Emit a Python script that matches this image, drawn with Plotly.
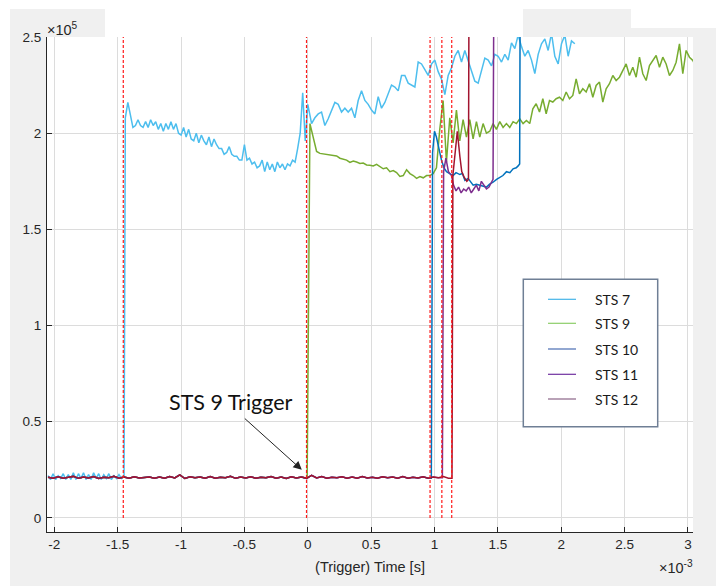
import plotly.graph_objects as go

# ---------------- data (time in ms = x10^-3 s, amplitude in x10^5) ----------------
# shared pre-trigger baseline (STS 9/10/11/12 overlap), t0=-2.05, step 0.04
base_t0, base_dt = -2.05, 0.04
base_v = [0.212, 0.206, 0.214, 0.207, 0.211, 0.216, 0.206, 0.213, 0.208, 0.215,
          0.205, 0.212, 0.209, 0.216, 0.207, 0.213, 0.206, 0.214, 0.208, 0.211,
          0.213, 0.207, 0.213, 0.206, 0.215, 0.208, 0.224, 0.205, 0.214, 0.209,
          0.213, 0.206, 0.215, 0.207, 0.212, 0.209, 0.216, 0.206, 0.213, 0.208,
          0.214, 0.206, 0.212, 0.209, 0.215, 0.207, 0.213, 0.205, 0.214, 0.208,
          0.213, 0.206, 0.222, 0.208, 0.215, 0.206, 0.212, 0.209, 0.214, 0.207,
          0.213, 0.206, 0.215, 0.208, 0.212, 0.206, 0.214, 0.209, 0.213, 0.207,
          0.215, 0.206, 0.212, 0.208, 0.214, 0.207, 0.213, 0.209, 0.215, 0.207,
          0.212]

# STS 7
sts7_pre_t0, sts7_pre_dt = -2.05, 0.02
sts7_pre_v = [0.22, 0.20, 0.23, 0.20, 0.22, 0.205, 0.23, 0.20, 0.225, 0.20,
              0.235, 0.20, 0.23, 0.205, 0.235, 0.20, 0.225, 0.20, 0.235, 0.205,
              0.23, 0.20, 0.225, 0.205, 0.23, 0.20, 0.22, 0.205, 0.225, 0.205, 0.215]
sts7_mid_t0, sts7_mid_dt = -1.44, 0.02
sts7_mid_v = [2.08, 2.16, 2.09, 2.03, 2.04, 2.07, 2.04, 2.03, 2.06, 2.03,
              2.07, 2.04, 2.06, 2.02, 2.05, 2.01, 2.05, 2.02, 2.06, 2.02,
              2.05, 2.00, 1.99, 2.03, 1.98, 2.02, 1.97, 1.96, 2.00, 1.95,
              1.99, 1.96, 1.94, 1.98, 1.93, 1.97, 1.94, 1.92, 1.92, 1.89,
              1.90, 1.93, 1.89, 1.88, 1.88, 1.86, 1.86, 1.94, 1.86, 1.87,
              1.84, 1.85, 1.82, 1.83, 1.86, 1.80, 1.85, 1.81, 1.84, 1.80,
              1.85, 1.82, 1.84, 1.81, 1.84, 1.83, 1.86, 1.85, 1.92, 2.00,
              2.21, 1.96, 2.15]
sts7_gap_t = [0.03]
sts7_gap_v = [2.05]
sts7_post_t0, sts7_post_dt = 0.056, 0.0263
sts7_post_v = [2.08, 2.10, 2.11, 2.04, 2.075, 2.12, 2.16, 2.15, 2.11, 2.13,
               2.11, 2.13, 2.08, 2.17, 2.22, 2.17, 2.15, 2.12, 2.10, 2.19,
               2.13, 2.16, 2.21, 2.25, 2.24, 2.22, 2.30, 2.30, 2.26, 2.25,
               2.24, 2.37, 2.36, 2.33, 2.30, 2.36, 2.38, 2.32, 2.28, 2.20,
               2.30, 2.34, 2.40, 2.43, 2.37, 2.43, 2.38, 2.33, 2.27, 2.26,
               2.33, 2.39, 2.38, 2.35, 2.41, 2.40, 2.37, 2.41,
               2.38, 2.47, 2.44, 2.51, 2.45, 2.40, 2.43, 2.38, 2.31, 2.41,
               2.465, 2.49, 2.43, 2.52, 2.40, 2.36, 2.465, 2.51, 2.40, 2.48,
               2.465]

# STS 9 (jumps at the 0 trigger)
sts9_jump = -0.005
sts9_a_t0, sts9_a_dt = 0.017, 0.0263
sts9_a_v = [2.05, 1.98, 1.905, 1.895, 1.893, 1.89, 1.888, 1.885, 1.882, 1.87,
            1.867, 1.86, 1.848, 1.855, 1.85, 1.843, 1.845, 1.835, 1.833, 1.83,
            1.838, 1.828, 1.815, 1.82, 1.80, 1.806, 1.795, 1.775, 1.78, 1.81,
            1.79, 1.78, 1.765, 1.775, 1.768, 1.78, 1.78]
sts9_b_t0, sts9_b_dt = 0.989, 0.0263
sts9_b_v = [1.79, 1.82, 2.02, 2.17, 1.85, 2.08, 1.95, 2.12, 1.96, 2.07,
            1.98, 2.07, 1.97, 2.06, 1.98, 2.05, 2.00, 2.01, 2.05, 2.02,
            2.06, 2.03, 2.05, 2.03, 2.06, 2.05, 2.075, 2.05, 2.066, 2.05]
sts9_c_t0, sts9_c_dt = 1.776, 0.0263
sts9_c_v = [2.127, 2.153, 2.110, 2.179, 2.101, 2.170, 2.162, 2.179, 2.187, 2.170,
            2.214, 2.179, 2.196, 2.282, 2.205, 2.231, 2.214, 2.257, 2.187, 2.248,
            2.266, 2.162, 2.231, 2.257, 2.300, 2.274, 2.291, 2.326, 2.360, 2.300,
            2.343, 2.291, 2.395, 2.309, 2.274, 2.352, 2.378, 2.404, 2.343, 2.395,
            2.360, 2.300, 2.326, 2.369, 2.464, 2.309, 2.430, 2.395, 2.378, 2.343]

# STS 10
sts10_jump = 0.975
sts10_t = [0.985, 1.00, 1.015, 1.03, 1.055, 1.075, 1.095, 1.12, 1.147, 1.17,
           1.20, 1.22, 1.24, 1.265, 1.285, 1.305, 1.33, 1.357, 1.38, 1.41,
           1.435, 1.462, 1.49, 1.515, 1.54, 1.568, 1.595, 1.62, 1.645, 1.66,
           1.672, 1.676]
sts10_v = [1.90, 2.01, 1.98, 1.93, 1.86, 1.82, 1.80, 1.79, 1.78, 1.795,
           1.785, 1.79, 1.755, 1.765, 1.75, 1.73, 1.735, 1.73, 1.725, 1.72,
           1.735, 1.745, 1.76, 1.77, 1.78, 1.80, 1.795, 1.815, 1.82, 1.83,
           1.84, 2.70]

# STS 11
sts11_jump = 1.062
sts11_t = [1.072, 1.09, 1.11, 1.134, 1.15, 1.17, 1.19, 1.21, 1.23, 1.25,
           1.27, 1.29, 1.31, 1.33, 1.35, 1.37, 1.39, 1.41, 1.43, 1.45,
           1.462, 1.468]
sts11_v = [1.80, 1.87, 1.80, 1.78, 1.73, 1.70, 1.72, 1.69, 1.71, 1.70,
           1.72, 1.69, 1.71, 1.73, 1.70, 1.75, 1.73, 1.71, 1.72, 1.75,
           1.76, 2.70]

# STS 12
sts12_jump = 1.138
sts12_t = [1.145, 1.16, 1.18, 1.20, 1.215, 1.235, 1.255, 1.268, 1.272]
sts12_v = [1.78, 1.88, 2.01, 1.88, 1.80, 1.77, 1.75, 1.76, 2.70]

trigger_times = [-1.456, -0.01, 0.965, 1.058, 1.136]

x_ticks = [-2, -1.5, -1, -0.5, 0, 0.5, 1, 1.5, 2, 2.5, 3]
y_ticks = [0, 0.5, 1, 1.5, 2, 2.5]
legend_names = ["STS 7", "STS 9", "STS 10", "STS 11", "STS 12"]
legend_colors = ["#44b4e8", "#8ccd68", "#4a6db2", "#7030a0", "#8a6488"]
trace_colors = ["#4DBEEE", "#77AC30", "#0072BD", "#7E2F8E", "#A2142F"]


def grid(t0, dt, vals):
    return [round(t0 + dt * i, 5) for i in range(len(vals))]


base_t = grid(base_t0, base_dt, base_v)


def with_baseline(jump, ts, vs):
    bt = [t for t in base_t if t < jump]
    bv = base_v[:len(bt)]
    return bt + [jump] + list(ts), bv + [bv[-1]] + list(vs)


s7_t = grid(sts7_pre_t0, sts7_pre_dt, sts7_pre_v) + grid(sts7_mid_t0, sts7_mid_dt, sts7_mid_v) \
    + sts7_gap_t + grid(sts7_post_t0, sts7_post_dt, sts7_post_v)
s7_v = sts7_pre_v + sts7_mid_v + sts7_gap_v + sts7_post_v

s9_t, s9_v = with_baseline(sts9_jump,
                           grid(sts9_a_t0, sts9_a_dt, sts9_a_v) + grid(sts9_b_t0, sts9_b_dt, sts9_b_v)
                           + grid(sts9_c_t0, sts9_c_dt, sts9_c_v),
                           sts9_a_v + sts9_b_v + sts9_c_v)
s10_t, s10_v = with_baseline(sts10_jump, sts10_t, sts10_v)
s11_t, s11_v = with_baseline(sts11_jump, sts11_t, sts11_v)
s12_t, s12_v = with_baseline(sts12_jump, sts12_t, sts12_v)

series = [(s7_t, s7_v), (s9_t, s9_v), (s10_t, s10_v), (s11_t, s11_v), (s12_t, s12_v)]

fig = go.Figure()
for (tt, vv), c, n in zip(series, trace_colors, legend_names):
    fig.add_trace(go.Scatter(x=tt, y=vv, mode="lines", name=n,
                             line=dict(color=c, width=1.5), showlegend=False))

for tr in trigger_times:
    fig.add_trace(go.Scatter(x=[tr, tr], y=[0, 2.5], mode="lines", showlegend=False,
                             line=dict(color="#ff1a1a", width=1.2, dash="3px,2px")))

# ---------------- layout ----------------
W, H = 716, 586
ML, MR, MT, MB = 47, 23, 37, 54
PW, PH = W - ML - MR, H - MT - MB


def px(x):
    return (x - ML) / PW


def py(y):
    return (H - MB - y) / PH


shapes = []
# white patches of the screenshot (outside the grey figure area)
for x0, y0, x1, y1 in [(0, 0, 716, 9), (0, 0, 10, 586), (105, 0, 523, MT), (631, 0, 716, 28)]:
    shapes.append(dict(type="rect", xref="paper", yref="paper", x0=px(x0), x1=px(x1),
                       y0=py(y1), y1=py(y0), fillcolor="white", line=dict(width=0), layer="below"))

# manual legend box
lx0, lx1, ly0, ly1 = 523.3, 657.7, 279.3, 426.7
shapes.append(dict(type="rect", xref="paper", yref="paper", x0=px(lx0), x1=px(lx1),
                   y0=py(ly1), y1=py(ly0), fillcolor="white",
                   line=dict(color="#6f7f95", width=1.5), layer="above"))
row_y = [299.3, 323.3, 349, 374.3, 399]
annotations = []
for ry, name, col in zip(row_y, legend_names, legend_colors):
    shapes.append(dict(type="line", xref="paper", yref="paper", x0=px(548), x1=px(576),
                       y0=py(ry), y1=py(ry), line=dict(color=col, width=1.2), layer="above"))
    annotations.append(dict(xref="paper", yref="paper", x=px(593), y=py(ry), text=name,
                            showarrow=False, xanchor="left", yanchor="middle",
                            font=dict(family="Lato", size=14, color="#1a1a1a")))

# STS 9 trigger label + arrow
annotations.append(dict(xref="paper", yref="paper", x=px(231), y=py(402), text="STS 9 Trigger",
                        showarrow=False, xanchor="center", yanchor="middle",
                        font=dict(family="Lato", size=21.5, color="#111111")))
annotations.append(dict(xref="x", yref="y", x=-0.047, y=0.25, ax=-60, ay=-54, text=" ",
                        showarrow=True, arrowhead=2, arrowsize=1.7, arrowwidth=1,
                        arrowcolor="#222222", axref="pixel", ayref="pixel"))

# exponent labels
annotations.append(dict(xref="paper", yref="paper", x=px(45), y=py(29), text="×10<sup>5</sup>",
                        showarrow=False, xanchor="left", yanchor="middle",
                        font=dict(family="Liberation Sans", size=14.5, color="#262626")))
annotations.append(dict(xref="paper", yref="paper", x=px(695), y=py(567), text="×10<sup>-3</sup>",
                        showarrow=False, xanchor="right", yanchor="middle",
                        font=dict(family="Liberation Sans", size=14.5, color="#262626")))

axis_common = dict(showline=True, linecolor="#262626", linewidth=1, ticks="inside",
                   ticklen=5, tickcolor="#262626", showgrid=True, gridcolor="#dcdcdc",
                   gridwidth=1, zeroline=False, mirror=False,
                   tickfont=dict(family="Liberation Sans", size=13.5, color="#262626"))

fig.update_layout(
    width=W, height=H,
    margin=dict(l=ML, r=MR, t=MT, b=MB, pad=0),
    paper_bgcolor="#f0f0f0", plot_bgcolor="white",
    xaxis=dict(range=[-2.058, 3.04], tickvals=x_ticks, ticktext=[f"{v:g}" for v in x_ticks],
               title=dict(text="(Trigger) Time [s]", standoff=10,
                          font=dict(family="Liberation Sans", size=14.5, color="#262626")),
               **axis_common),
    yaxis=dict(range=[-0.073, 2.5], tickvals=y_ticks, ticktext=[f"{v:g}" for v in y_ticks],
               ticklabelstandoff=2, **axis_common),
    shapes=shapes, annotations=annotations, showlegend=False,
)

fig.write_html("out.html")
